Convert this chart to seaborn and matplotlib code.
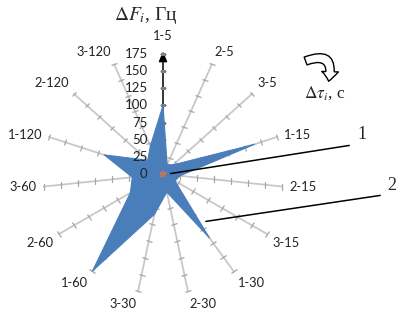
import numpy as np
import matplotlib
matplotlib.use("Agg")
import matplotlib.pyplot as plt
import seaborn as sns
import pandas as pd
from matplotlib.markers import MarkerStyle
from matplotlib.transforms import Affine2D
from matplotlib.patches import FancyArrowPatch

categories = ['1-5', '2-5', '3-5', '1-15', '2-15', '3-15', '1-30', '2-30', '3-30',
              '1-60', '2-60', '3-60', '1-120', '2-120', '3-120']
series2 = [100, 15, 20, 140, 25, 20, 115, 27, 60, 175, 55, 45, 90, 30, 45]
series1 = [6, 4, 5, 7, 5, 4, 6, 5, 4, 7, 5, 4, 6, 5, 4]
radial_ticks = [0, 25, 50, 75, 100, 125, 150, 175]

sns.set_style("white")
plt.rcParams['font.family'] = ['Lato', 'DejaVu Sans']
plt.rcParams['mathtext.fontset'] = 'stix'

W, H = 403, 313
fig = plt.figure(figsize=(W / 100, H / 100), dpi=100)
cx, cy = 163, 174          # centre in pixels (top-left origin)
rmax = 190
rpx = 120 / 175 * rmax
ax = fig.add_axes([(cx - rpx) / W, (H - cy - rpx) / H, 2 * rpx / W, 2 * rpx / H],
                  projection='polar')
ax.set_theta_zero_location('N')
ax.set_theta_direction(-1)
ax.set_ylim(0, rmax)
ax.grid(False)
ax.set_xticks([])
ax.set_yticks([])
ax.spines['polar'].set_visible(False)
ax.patch.set_alpha(0)

n = len(categories)
theta = np.arange(n) * 2 * np.pi / n
spoke_col = '#c8c8c8'
tick_col = '#a6a6a6'

# spokes and tick marks
for k, th in enumerate(theta):
    if k == 0:
        ax.annotate('', xy=(th, 183), xytext=(th, 0),
                    arrowprops=dict(arrowstyle='-|>,head_length=0.6,head_width=0.25',
                                    color='black', lw=1.1), zorder=1)
    else:
        ax.plot([th, th], [0, radial_ticks[-1]], color=spoke_col, lw=1.3, zorder=1)
    m = MarkerStyle('_', transform=Affine2D().rotate_deg(-np.degrees(th)))
    ax.plot([th] * (len(radial_ticks) - 1), radial_ticks[1:], linestyle='none',
            marker=m, markersize=4.6, markeredgewidth=0.9,
            color='#808080' if k == 0 else tick_col, zorder=1)

# series polygons
blue = '#4a7ebb'
th_closed = np.append(theta, theta[0])
df2 = pd.DataFrame({'theta': th_closed, 'r': series2 + series2[:1]})
df1 = pd.DataFrame({'theta': th_closed, 'r': series1 + series1[:1]})
ax.fill(df2['theta'], df2['r'], color=blue, zorder=2, lw=0)
sns.lineplot(data=df2, x='theta', y='r', sort=False, ax=ax, color=blue, lw=0.8,
             estimator=None, zorder=2)
ax.fill(df1['theta'], df1['r'], color='#c9774f', zorder=3, lw=0, alpha=0.85)
ax.set_xlabel('')
ax.set_ylabel('')

# category labels
for th, lab in zip(theta, categories):
    s, c = np.sin(th), np.cos(th)
    ha = 'left' if s > 0.15 else ('right' if s < -0.15 else 'center')
    va = 'bottom' if c > 0.35 else ('top' if c < -0.35 else 'center')
    r = 185 if lab != '1-5' else 192
    ax.text(th, r, lab, ha=ha, va=va, fontsize=9.3, color='#222222',
            clip_on=False, zorder=5)

# radial labels
for rv in radial_ticks:
    ax.annotate(str(rv), xy=(0, rv), xytext=(-11, 0), textcoords='offset points',
                ha='right', va='center', fontsize=9.5, color='#222222', zorder=5)

# leader lines
ax.annotate('', xy=(np.pi / 2, 7), xycoords='data',
            xytext=(352, H - 145), textcoords='figure pixels',
            arrowprops=dict(arrowstyle='-', color='black', lw=1.1), zorder=6)
ax.annotate('', xy=(np.radians(140), 91), xycoords='data',
            xytext=(383, H - 195), textcoords='figure pixels',
            arrowprops=dict(arrowstyle='-', color='black', lw=1.1), zorder=6)

serif = ['Liberation Serif', 'DejaVu Serif']
fig.text(362 / W, 1 - 135 / H, '1', ha='center', va='center', fontsize=13, family=serif)
fig.text(392 / W, 1 - 185 / H, '2', ha='center', va='center', fontsize=13, family=serif)
fig.text(146 / W, 1 - 15 / H, r'$\Delta F_i$, Гц', ha='center', va='center',
         fontsize=14, family=serif)
fig.text(325 / W, 1 - 93 / H, r'$\Delta\tau_i$, c', ha='center', va='center',
         fontsize=12.5, family=serif)

arr = FancyArrowPatch(posA=(303, H - 62), posB=(328, H - 84),
                      connectionstyle='arc3,rad=-1.0',
                      arrowstyle='simple,head_length=7,head_width=12,tail_width=6',
                      mutation_scale=1, facecolor='white', edgecolor='black', lw=1,
                      transform=None)
fig.patches.append(arr)

fig.savefig('out.png', dpi=100)
